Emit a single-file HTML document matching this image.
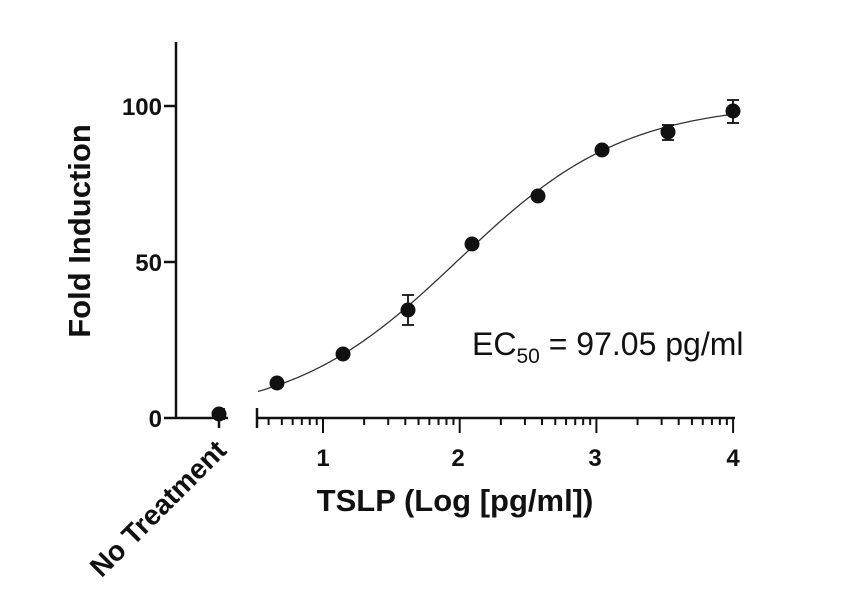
<!DOCTYPE html>
<html><head><meta charset="utf-8"><style>
html,body{margin:0;padding:0;background:#fff}
svg{display:block}
text{font-family:"Liberation Sans",Arial,sans-serif;fill:#111}
</style></head><body>
<svg id="s" width="851" height="609" viewBox="0 0 851 609" xmlns="http://www.w3.org/2000/svg">
<g stroke="#111" stroke-width="2.5" fill="none">
<line x1="176" y1="42" x2="176" y2="419"/>
<line x1="164" y1="106" x2="176" y2="106"/>
<line x1="164" y1="262" x2="176" y2="262"/>
<line x1="164" y1="418" x2="228" y2="418"/>
<line x1="219" y1="418" x2="219" y2="428"/>
<line x1="257" y1="418" x2="735" y2="418"/>
<line x1="257" y1="408" x2="257" y2="428"/>
</g>
<g id="ticks" stroke="#111" stroke-width="2"></g>
<path id="curve" fill="none" stroke="#333" stroke-width="1.3"/>
<g stroke="#111" stroke-width="1.8">
<line x1="408" y1="295" x2="408" y2="325"/><line x1="402" y1="295" x2="414" y2="295"/><line x1="402" y1="325" x2="414" y2="325"/>
<line x1="668" y1="125" x2="668" y2="140"/><line x1="662" y1="125" x2="674" y2="125"/><line x1="662" y1="140" x2="674" y2="140"/>
<line x1="733" y1="100" x2="733" y2="123"/><line x1="727" y1="100" x2="739" y2="100"/><line x1="727" y1="123" x2="739" y2="123"/>
<line x1="224" y1="408" x2="224" y2="420"/>
</g>
<g fill="#111">
<circle cx="219" cy="414" r="7.5"/>
<circle cx="277" cy="383" r="7.5"/><circle cx="343" cy="354" r="7.5"/><circle cx="408" cy="310" r="7.5"/>
<circle cx="472" cy="244" r="7.5"/><circle cx="538" cy="196" r="7.5"/><circle cx="602" cy="150" r="7.5"/>
<circle cx="668" cy="132" r="7.5"/><circle cx="733" cy="111" r="7.5"/>
</g>
<g font-size="24" font-weight="bold" text-anchor="end">
<text x="162" y="115">100</text><text x="162" y="271">50</text><text x="162" y="427">0</text>
</g>
<g font-size="24" font-weight="bold" text-anchor="middle">
<text x="323" y="466">1</text><text x="458" y="466">2</text><text x="595" y="466">3</text><text x="733" y="466">4</text>
</g>
<text x="455" y="511" font-size="31" font-weight="bold" text-anchor="middle">TSLP (Log [pg/ml])</text>
<text transform="translate(90,231) rotate(-90)" font-size="31" font-weight="bold" text-anchor="middle">Fold Induction</text>
<text transform="translate(228,452) rotate(-45)" font-size="28" font-weight="bold" text-anchor="end">No Treatment</text>
<text x="472" y="355" font-size="32" fill="#222">EC<tspan font-size="21" dy="8">50</tspan><tspan dy="-8"> = 97.05 pg/ml</tspan></text>
</svg>
<script>
(function(){
var ns="http://www.w3.org/2000/svg",g=document.getElementById("ticks");
function X(l){return 323+136.7*(l-1);}
function t(x,len){var e=document.createElementNS(ns,"line");e.setAttribute("x1",x);e.setAttribute("x2",x);e.setAttribute("y1",418);e.setAttribute("y2",418+len);g.appendChild(e);}
for(var d=0;d<4;d++){for(var m=2;m<=9;m++){var l=d+Math.log10(m);if(X(l)>258)t(X(l),7);}t(X(d+1),15);}
var p="";for(var px=258;px<=735;px+=3){var l=1+(px-323)/136.7;var v=101/(1+Math.pow(10,(1.987-l)*0.709));var y=418-3.12*v;p+=(p?"L":"M")+px+","+y.toFixed(1);}
document.getElementById("curve").setAttribute("d",p);
})();
</script>
</body></html>
